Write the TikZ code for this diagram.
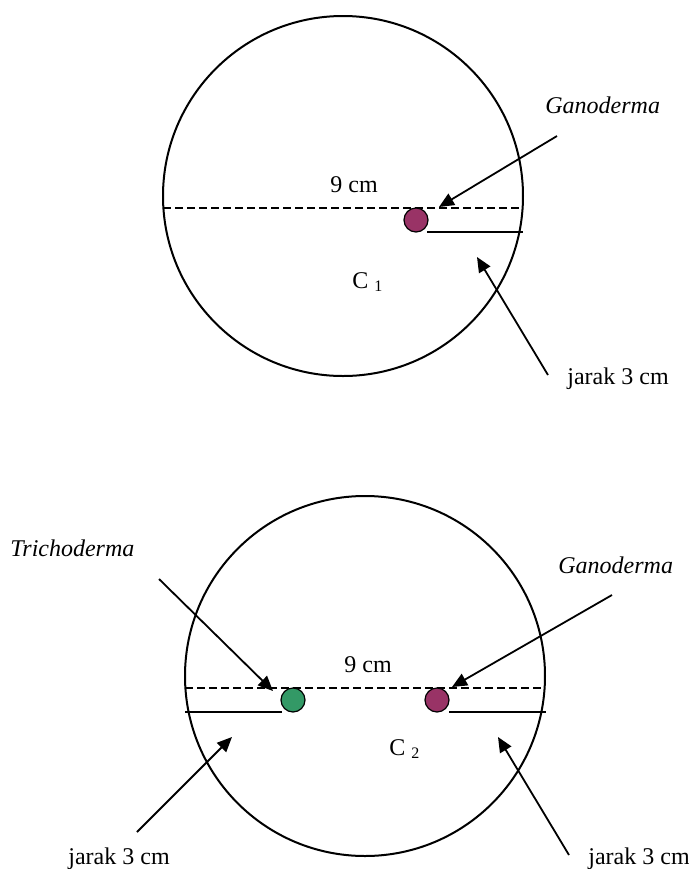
\documentclass[tikz,border=0pt]{standalone}
\usepackage{fontspec}
\setmainfont{Liberation Serif}
\usetikzlibrary{arrows.meta}
\definecolor{plum}{HTML}{993366}
\definecolor{sea}{HTML}{339966}
\begin{document}
\begin{tikzpicture}[x=0.5pt,y=-0.5pt,
  ring/.style={draw=black, line width=1pt},
  cut/.style={draw=black, line width=0.75pt, dash pattern=on 4pt off 2pt},
  gap/.style={draw=black, line width=0.9pt},
  spot/.style={circle, draw=black, line width=0.6pt, minimum size=12pt, inner sep=0pt},
  pointer/.style={draw=black, line width=0.9pt, -{Triangle[length=7.5pt,width=6.5pt]}},
  lbl/.style={font=\fontsize{12}{14}\selectfont, inner sep=0pt, anchor=base west},
]
\useasboundingbox (0,0) rectangle (689,869);

% ---------- dish C1 ----------
\node[circle, ring, minimum size=180pt, inner sep=0pt] (dish1) at (343,196) {};
\coordinate (d1l) at (163,208);
\coordinate (d1r) at (522,208);
\draw[cut] (d1l) -- (d1r);
\node[spot, fill=plum] (g1) at (416,220) {};
\coordinate (s1a) at (427,232);
\coordinate (s1b) at (523,232);
\draw[gap] (s1a) -- (s1b);
\node[lbl] (t9a) at (330,192) {9 cm};
\node[lbl] (c1) at (352,288) {C {\fontsize{8}{8}\selectfont\raisebox{-1.5pt}{1}}};
\node[lbl] (gan1) at (545,113) {\textit{Ganoderma}};
\node[lbl] (jar1) at (567,384) {jarak 3 cm};
\coordinate (a1s) at (557,136);
\coordinate (a1e) at (439,207);
\draw[pointer] (a1s) -- (a1e);
\coordinate (b1s) at (548,375);
\coordinate (b1e) at (477,257);
\draw[pointer] (b1s) -- (b1e);

% ---------- dish C2 ----------
\node[circle, ring, minimum size=180pt, inner sep=0pt] (dish2) at (365,676) {};
\coordinate (d2l) at (185,688);
\coordinate (d2r) at (544,688);
\draw[cut] (d2l) -- (d2r);
\node[spot, fill=sea] (tr2) at (293,700) {};
\node[spot, fill=plum] (g2) at (437,700) {};
\coordinate (s2a) at (185,712);
\coordinate (s2b) at (282,712);
\draw[gap] (s2a) -- (s2b);
\coordinate (s3a) at (449,712);
\coordinate (s3b) at (546,712);
\draw[gap] (s3a) -- (s3b);
\node[lbl] (t9b) at (344,672) {9 cm};
\node[lbl] (c2) at (389,755) {C {\fontsize{8}{8}\selectfont\raisebox{-1.5pt}{2}}};
\node[lbl] (tri) at (10,556) {\textit{Trichoderma}};
\node[lbl] (gan2) at (558,573) {\textit{Ganoderma}};
\node[lbl] (jar2) at (68,864) {jarak 3 cm};
\node[lbl] (jar3) at (588,864) {jarak 3 cm};
\coordinate (a2s) at (159,579);
\coordinate (a2e) at (273,691);
\draw[pointer] (a2s) -- (a2e);
\coordinate (a3s) at (612,595);
\coordinate (a3e) at (452,687);
\draw[pointer] (a3s) -- (a3e);
\coordinate (b2s) at (137,832);
\coordinate (b2e) at (232,737);
\draw[pointer] (b2s) -- (b2e);
\coordinate (b3s) at (569,855);
\coordinate (b3e) at (498,737);
\draw[pointer] (b3s) -- (b3e);
\end{tikzpicture}
\end{document}
